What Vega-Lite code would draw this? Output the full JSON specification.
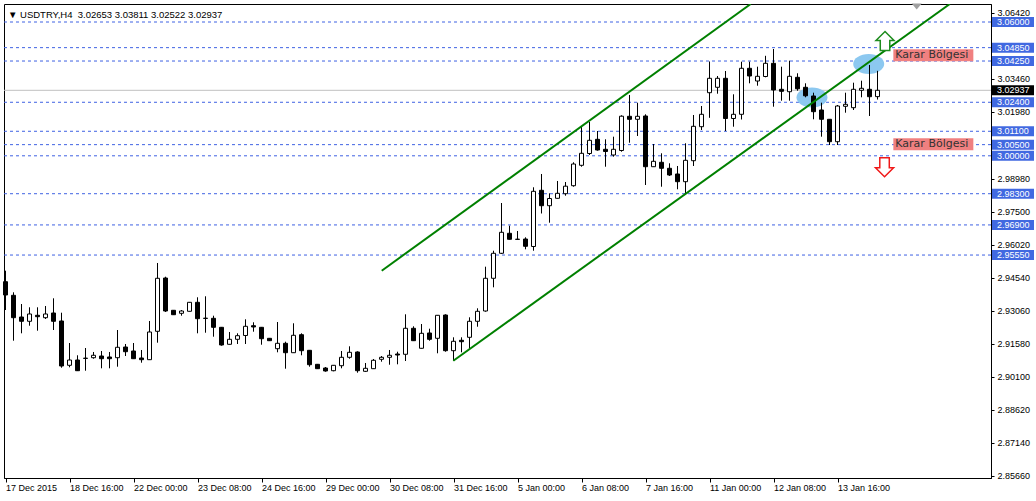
{
"$schema": "https://vega.github.io/schema/vega-lite/v6.json",
"width": 987, "height": 474,
"autosize": {"type": "none"},
"padding": {"left": 4, "top": 4, "right": 45, "bottom": 23},
"background": "white",
"config": {"view": {"stroke": "black", "strokeWidth": 1}, "font": "Liberation Sans", "axis": {"labelOverlap": false, "labelFlush": false}, "scale": {"continuousPadding": 0}},
"title": {"text": "▼\u00a0USDTRY,H4\u00a0\u00a03.02653\u00a03.03811\u00a03.02522\u00a03.02937", "anchor": "start", "frame": "group", "orient": "top", "offset": 0, "dy": 24, "dx": 4, "baseline": "alphabetic", "font": "Liberation Sans", "fontSize": 9.5, "fontWeight": "normal", "color": "black"},
"datasets": {
"candles": [
{"k":0,"o":2.94354,"h":2.94848,"l":2.93085,"c":2.93758},
{"k":1,"o":2.93744,"h":2.93879,"l":2.91709,"c":2.92740},
{"k":2,"o":2.92771,"h":2.93354,"l":2.92040,"c":2.92579},
{"k":3,"o":2.92579,"h":2.93206,"l":2.92381,"c":2.92906},
{"k":4,"o":2.92848,"h":2.93206,"l":2.92157,"c":2.92785},
{"k":5,"o":2.92740,"h":2.93265,"l":2.92682,"c":2.92906},
{"k":6,"o":2.92951,"h":2.93610,"l":2.92188,"c":2.92579},
{"k":7,"o":2.92592,"h":2.92964,"l":2.90498,"c":2.90574},
{"k":8,"o":2.90605,"h":2.91605,"l":2.90516,"c":2.90843},
{"k":9,"o":2.90843,"h":2.91054,"l":2.90350,"c":2.90363},
{"k":10,"o":2.90925,"h":2.91381,"l":2.90363,"c":2.90915},
{"k":11,"o":2.90946,"h":2.91202,"l":2.90901,"c":2.91054},
{"k":12,"o":2.91022,"h":2.91247,"l":2.90471,"c":2.90901},
{"k":13,"o":2.90978,"h":2.91202,"l":2.90471,"c":2.90901},
{"k":14,"o":2.90946,"h":2.92188,"l":2.90543,"c":2.91413},
{"k":15,"o":2.91426,"h":2.91561,"l":2.91022,"c":2.91215},
{"k":16,"o":2.91247,"h":2.91605,"l":2.90890,"c":2.90901},
{"k":17,"o":2.90933,"h":2.91292,"l":2.90722,"c":2.90857},
{"k":18,"o":2.90857,"h":2.92592,"l":2.90843,"c":2.92099},
{"k":19,"o":2.92130,"h":2.95193,"l":2.91619,"c":2.94507},
{"k":20,"o":2.94520,"h":2.94578,"l":2.92996,"c":2.93040},
{"k":21,"o":2.93072,"h":2.93085,"l":2.92861,"c":2.92874},
{"k":22,"o":2.92937,"h":2.93085,"l":2.92830,"c":2.93040},
{"k":23,"o":2.93027,"h":2.93444,"l":2.93018,"c":2.93430},
{"k":24,"o":2.93430,"h":2.93655,"l":2.92040,"c":2.92695},
{"k":25,"o":2.92718,"h":2.93700,"l":2.92067,"c":2.92708},
{"k":26,"o":2.92713,"h":2.92830,"l":2.91888,"c":2.92309},
{"k":27,"o":2.92309,"h":2.92323,"l":2.91484,"c":2.91516},
{"k":28,"o":2.91547,"h":2.92099,"l":2.91538,"c":2.91771},
{"k":29,"o":2.91771,"h":2.92040,"l":2.91561,"c":2.91933},
{"k":30,"o":2.91942,"h":2.92668,"l":2.91561,"c":2.92354},
{"k":31,"o":2.92381,"h":2.92534,"l":2.92112,"c":2.92323},
{"k":32,"o":2.92309,"h":2.92323,"l":2.91529,"c":2.91798},
{"k":33,"o":2.91816,"h":2.91830,"l":2.91695,"c":2.91709},
{"k":34,"o":2.91350,"h":2.92547,"l":2.91188,"c":2.91592},
{"k":35,"o":2.91592,"h":2.91664,"l":2.90453,"c":2.91170},
{"k":36,"o":2.91170,"h":2.92489,"l":2.91157,"c":2.91951},
{"k":37,"o":2.91978,"h":2.92040,"l":2.91054,"c":2.91260},
{"k":38,"o":2.91278,"h":2.91292,"l":2.90543,"c":2.90632},
{"k":39,"o":2.90650,"h":2.90664,"l":2.90439,"c":2.90453},
{"k":40,"o":2.90484,"h":2.90529,"l":2.90318,"c":2.90350},
{"k":41,"o":2.90363,"h":2.90619,"l":2.90336,"c":2.90605},
{"k":42,"o":2.90587,"h":2.91247,"l":2.90471,"c":2.90964},
{"k":43,"o":2.90964,"h":2.91457,"l":2.90901,"c":2.91188},
{"k":44,"o":2.91202,"h":2.91233,"l":2.90274,"c":2.90363},
{"k":45,"o":2.90336,"h":2.90709,"l":2.90305,"c":2.90471},
{"k":46,"o":2.90453,"h":2.90888,"l":2.90439,"c":2.90830},
{"k":47,"o":2.90874,"h":2.91022,"l":2.90767,"c":2.90964},
{"k":48,"o":2.90964,"h":2.91292,"l":2.90632,"c":2.91054},
{"k":49,"o":2.91112,"h":2.91215,"l":2.90650,"c":2.91067},
{"k":50,"o":2.91099,"h":2.92892,"l":2.90798,"c":2.92265},
{"k":51,"o":2.92265,"h":2.92354,"l":2.91695,"c":2.91709},
{"k":52,"o":2.91368,"h":2.92457,"l":2.91359,"c":2.92040},
{"k":53,"o":2.92054,"h":2.92247,"l":2.91709,"c":2.91771},
{"k":54,"o":2.91816,"h":2.92861,"l":2.91144,"c":2.92848},
{"k":55,"o":2.92861,"h":2.92892,"l":2.91215,"c":2.91260},
{"k":56,"o":2.91260,"h":2.91861,"l":2.90812,"c":2.91682},
{"k":57,"o":2.91727,"h":2.91861,"l":2.91188,"c":2.91664},
{"k":58,"o":2.91861,"h":2.92758,"l":2.91323,"c":2.92579},
{"k":59,"o":2.92579,"h":2.93161,"l":2.92336,"c":2.93027},
{"k":60,"o":2.93040,"h":2.95027,"l":2.93009,"c":2.94507},
{"k":61,"o":2.94507,"h":2.95744,"l":2.94103,"c":2.95628},
{"k":62,"o":2.95628,"h":2.97883,"l":2.95596,"c":2.96570},
{"k":63,"o":2.96525,"h":2.96866,"l":2.96247,"c":2.96256},
{"k":64,"o":2.96260,"h":2.96628,"l":2.96224,"c":2.96252},
{"k":65,"o":2.96269,"h":2.96345,"l":2.95807,"c":2.95942},
{"k":66,"o":2.95933,"h":2.98588,"l":2.95744,"c":2.98408},
{"k":67,"o":2.98453,"h":2.99184,"l":2.97413,"c":2.97762},
{"k":68,"o":2.97762,"h":2.98318,"l":2.97000,"c":2.98085},
{"k":69,"o":2.98094,"h":2.98870,"l":2.98085,"c":2.98318},
{"k":70,"o":2.98300,"h":2.98825,"l":2.98211,"c":2.98637},
{"k":71,"o":2.98659,"h":2.99709,"l":2.98614,"c":2.99632},
{"k":72,"o":2.99574,"h":3.01292,"l":2.99511,"c":3.00112},
{"k":73,"o":3.00103,"h":3.01516,"l":3.00036,"c":3.00695},
{"k":74,"o":3.00740,"h":3.01112,"l":3.00229,"c":3.00260},
{"k":75,"o":3.00292,"h":3.00740,"l":2.99511,"c":3.00193},
{"k":76,"o":3.00036,"h":3.00857,"l":2.99960,"c":3.00292},
{"k":77,"o":3.00238,"h":3.01816,"l":3.00184,"c":3.01776},
{"k":78,"o":3.01771,"h":3.02727,"l":3.00587,"c":3.01637},
{"k":79,"o":3.01637,"h":3.02381,"l":3.00888,"c":3.01771},
{"k":80,"o":3.01785,"h":3.01861,"l":2.98691,"c":2.99511},
{"k":81,"o":2.99511,"h":3.00529,"l":2.99500,"c":2.99753},
{"k":82,"o":2.99709,"h":3.00112,"l":2.98614,"c":2.99440},
{"k":83,"o":2.99440,"h":2.99664,"l":2.99094,"c":2.99139},
{"k":84,"o":2.99184,"h":2.99543,"l":2.98498,"c":2.98839},
{"k":85,"o":2.98839,"h":3.00561,"l":2.98318,"c":2.99798},
{"k":86,"o":2.99780,"h":3.01830,"l":2.99543,"c":3.01323},
{"k":87,"o":3.01305,"h":3.02233,"l":3.01157,"c":3.01861},
{"k":88,"o":3.02830,"h":3.04229,"l":3.01704,"c":3.03475},
{"k":89,"o":3.03072,"h":3.03578,"l":3.02785,"c":3.03475},
{"k":90,"o":3.03475,"h":3.03803,"l":3.01112,"c":3.01673},
{"k":91,"o":3.01673,"h":3.02758,"l":3.01305,"c":3.01861},
{"k":92,"o":3.01861,"h":3.04220,"l":3.01628,"c":3.03924},
{"k":93,"o":3.03924,"h":3.04220,"l":3.03251,"c":3.03578},
{"k":94,"o":3.03354,"h":3.03996,"l":3.03143,"c":3.03565},
{"k":95,"o":3.03556,"h":3.04484,"l":3.03520,"c":3.04148},
{"k":96,"o":3.04148,"h":3.04789,"l":3.02202,"c":3.02951},
{"k":97,"o":3.02982,"h":3.03996,"l":3.02471,"c":3.02892},
{"k":98,"o":3.02874,"h":3.04265,"l":3.02471,"c":3.03565},
{"k":99,"o":3.03520,"h":3.03700,"l":3.02919,"c":3.03004},
{"k":100,"o":3.03072,"h":3.03251,"l":3.02623,"c":3.02691},
{"k":101,"o":3.02682,"h":3.02830,"l":3.01637,"c":3.01978},
{"k":102,"o":3.02054,"h":3.02381,"l":3.00857,"c":3.01637},
{"k":103,"o":3.01637,"h":3.01637,"l":3.00484,"c":3.00632},
{"k":104,"o":3.00632,"h":3.02278,"l":3.00484,"c":3.02233},
{"k":105,"o":3.02220,"h":3.02830,"l":3.01933,"c":3.02309},
{"k":106,"o":3.02157,"h":3.03278,"l":3.02054,"c":3.02982},
{"k":107,"o":3.02937,"h":3.03368,"l":3.02623,"c":3.03027},
{"k":108,"o":3.02982,"h":3.04072,"l":3.01785,"c":3.02650},
{"k":109,"o":3.02653,"h":3.03811,"l":3.02522,"c":3.02937}
],
"levels": [{"p":3.06},{"p":3.0485},{"p":3.0425},{"p":3.024},{"p":3.011},{"p":3.005},{"p":3.0},{"p":2.983},{"p":2.969},{"p":2.9555}],
"bid": [{"p":3.02937}],
"channel": [{"line":"upper","k":47.03,"p":2.94848},{"line":"upper","k":93.15,"p":3.068072},{"line":"lower","k":55.98,"p":2.90812},{"line":"lower","k":118.04,"p":3.068072}],
"ellipses": [{"k":100.81,"p":3.02614},{"k":107.9,"p":3.04117}],
"arrows": [{"dir":"up","k":109.94,"p":3.05148},{"dir":"down","k":109.88,"p":2.99484}],
"zones": [{"text":"Karar Bölgesi","k":110.98,"p":3.04507},{"text":"Karar Bölgesi","k":110.98,"p":3.00516}],
"shift": [{"k":113.9,"p":3.0669}]
},
"layer": [
{"data":{"name":"levels"},"mark":{"type":"rule","color":"#3F62E3","strokeWidth":1,"strokeDash":[3,3]},
 "encoding":{"y":{"field":"p","type":"quantitative","scale":{"domain":[2.855516,3.068072],"nice":false,"zero":false,"padding":0}}}},
{"data":{"name":"bid"},"mark":{"type":"rule","color":"#C0C0C0","strokeWidth":1},
 "encoding":{"y":{"field":"p","type":"quantitative","scale":{"domain":[2.855516,3.068072],"nice":false,"zero":false,"padding":0}}}},
{"data":{"name":"ellipses"},"mark":{"type":"point","shape":"M-1,0A1,0.64,0,1,0,1,0A1,0.64,0,1,0,-1,0Z","filled":true,"size":961,"color":"#8CC8F0","opacity":1,"strokeWidth":0},
 "encoding":{"x":{"field":"k","type":"quantitative","scale":{"domain":[-0.1875,123.1875],"nice":false,"zero":false,"padding":0}},
  "y":{"field":"p","type":"quantitative","scale":{"domain":[2.855516,3.068072],"nice":false,"zero":false,"padding":0}}}},
{"data":{"name":"candles"},"mark":{"type":"rule","color":"black","strokeWidth":1},
 "encoding":{"x":{"field":"k","type":"quantitative","scale":{"domain":[-0.1875,123.1875],"nice":false,"zero":false,"padding":0},
   "axis":{"orient":"bottom","values":[0,8,16,24,32,40,48,56,64,72,80,88,96,104],"tickCount":40,"labelExpr":"['17 Dec 2015','18 Dec 16:00','22 Dec 00:00','23 Dec 08:00','24 Dec 16:00','29 Dec 00:00','30 Dec 08:00','31 Dec 16:00','5 Jan 00:00','6 Jan 08:00','7 Jan 16:00','11 Jan 00:00','12 Jan 08:00','13 Jan 16:00'][round(datum.value/8)]","labelAlign":"left","labelDx":1,"labelPadding":1,"tickSize":4,"tickColor":"black","domainColor":"black","labelColor":"black","labelFont":"Liberation Sans","labelFontSize":9,"labelOverlap":false,"labelFlush":false,"title":null,"grid":false}},
  "y":{"field":"l","type":"quantitative","scale":{"domain":[2.855516,3.068072],"nice":false,"zero":false,"padding":0},
   "axis":{"orient":"right","values":[3.0642,3.0346,3.0198,2.9898,2.975,2.9602,2.9454,2.9306,2.9158,2.901,2.8862,2.8714,2.8566],"tickCount":40,"format":".5f","tickSize":3,"labelPadding":3,"tickColor":"black","domainColor":"black","labelColor":"black","labelFont":"Liberation Sans","labelFontSize":9,"labelOverlap":false,"labelFlush":false,"labelSeparation":0,"title":null,"grid":false}},
  "y2":{"field":"h"}}},
{"data":{"name":"candles"},"mark":{"type":"bar","width":4,"stroke":"black","strokeWidth":1},
 "encoding":{"x":{"field":"k","type":"quantitative","scale":{"domain":[-0.1875,123.1875],"nice":false,"zero":false,"padding":0}},
  "y":{"field":"o","type":"quantitative","scale":{"domain":[2.855516,3.068072],"nice":false,"zero":false,"padding":0}},
  "y2":{"field":"c"},
  "fill":{"condition":{"test":"datum.c > datum.o","value":"white"},"value":"black"}}},
{"data":{"name":"channel"},"mark":{"type":"line","color":"#008000","strokeWidth":2,"clip":true},
 "encoding":{"x":{"field":"k","type":"quantitative","scale":{"domain":[-0.1875,123.1875],"nice":false,"zero":false,"padding":0}},
  "y":{"field":"p","type":"quantitative","scale":{"domain":[2.855516,3.068072],"nice":false,"zero":false,"padding":0}},
  "detail":{"field":"line"}}},
{"data":{"name":"shift"},"mark":{"type":"point","shape":"M-1,-0.6L1,-0.6L0,0.6Z","size":100,"filled":true,"color":"#A0A0A0","opacity":1,"strokeWidth":0},
 "encoding":{"x":{"field":"k","type":"quantitative","scale":{"domain":[-0.1875,123.1875],"nice":false,"zero":false,"padding":0}},
  "y":{"field":"p","type":"quantitative","scale":{"domain":[2.855516,3.068072],"nice":false,"zero":false,"padding":0}}}},
{"data":{"name":"zones"},"mark":{"type":"rect","color":"#F08080","x2Offset":80,"yOffset":-6,"y2Offset":6},
 "encoding":{"x":{"field":"k","type":"quantitative","scale":{"domain":[-0.1875,123.1875],"nice":false,"zero":false,"padding":0}},
  "x2":{"field":"k"},
  "y":{"field":"p","type":"quantitative","scale":{"domain":[2.855516,3.068072],"nice":false,"zero":false,"padding":0}},
  "y2":{"field":"p"}}},
{"data":{"name":"zones"},"mark":{"type":"text","align":"left","baseline":"middle","dx":2,"font":"DejaVu Sans","fontSize":11,"color":"#333333"},
 "encoding":{"x":{"field":"k","type":"quantitative","scale":{"domain":[-0.1875,123.1875],"nice":false,"zero":false,"padding":0}},
  "y":{"field":"p","type":"quantitative","scale":{"domain":[2.855516,3.068072],"nice":false,"zero":false,"padding":0}},
  "text":{"field":"text"}}},
{"data":{"name":"arrows"},"transform":[{"filter":"datum.dir == 'up'"}],"mark":{"type":"point","shape":"M0,-1L0.95,-0.05L0.5,-0.05L0.5,1L-0.5,1L-0.5,-0.05L-0.95,-0.05Z","size":361,"filled":true,"fill":"white","stroke":"#1E8C1E","strokeWidth":1.5,"opacity":1},
 "encoding":{"x":{"field":"k","type":"quantitative","scale":{"domain":[-0.1875,123.1875],"nice":false,"zero":false,"padding":0}},
  "y":{"field":"p","type":"quantitative","scale":{"domain":[2.855516,3.068072],"nice":false,"zero":false,"padding":0}}}},
{"data":{"name":"arrows"},"transform":[{"filter":"datum.dir == 'down'"}],"mark":{"type":"point","shape":"M0,1L0.95,0.05L0.5,0.05L0.5,-1L-0.5,-1L-0.5,0.05L-0.95,0.05Z","size":361,"filled":true,"fill":"white","stroke":"#F01818","strokeWidth":1.5,"opacity":1},
 "encoding":{"x":{"field":"k","type":"quantitative","scale":{"domain":[-0.1875,123.1875],"nice":false,"zero":false,"padding":0}},
  "y":{"field":"p","type":"quantitative","scale":{"domain":[2.855516,3.068072],"nice":false,"zero":false,"padding":0}}}},
{"data":{"name":"levels"},"mark":{"type":"rect","color":"#4169E1","xOffset":1,"x2Offset":43,"yOffset":-5,"y2Offset":5},
 "encoding":{"x":{"value":"width"},"x2":{"value":"width"},
  "y":{"field":"p","type":"quantitative","scale":{"domain":[2.855516,3.068072],"nice":false,"zero":false,"padding":0}},
  "y2":{"field":"p"}}},
{"data":{"name":"bid"},"mark":{"type":"rect","color":"black","xOffset":1,"x2Offset":43,"yOffset":-5,"y2Offset":5},
 "encoding":{"x":{"value":"width"},"x2":{"value":"width"},
  "y":{"field":"p","type":"quantitative","scale":{"domain":[2.855516,3.068072],"nice":false,"zero":false,"padding":0}},
  "y2":{"field":"p"}}},
{"data":{"name":"levels"},"mark":{"type":"text","align":"left","baseline":"middle","dx":6,"font":"Liberation Sans","fontSize":9,"color":"white"},
 "encoding":{"x":{"value":"width"},
  "y":{"field":"p","type":"quantitative","scale":{"domain":[2.855516,3.068072],"nice":false,"zero":false,"padding":0}},
  "text":{"field":"p","format":".5f"}}},
{"data":{"name":"bid"},"mark":{"type":"text","align":"left","baseline":"middle","dx":6,"font":"Liberation Sans","fontSize":9,"color":"white"},
 "encoding":{"x":{"value":"width"},
  "y":{"field":"p","type":"quantitative","scale":{"domain":[2.855516,3.068072],"nice":false,"zero":false,"padding":0}},
  "text":{"field":"p","format":".5f"}}}
]
}
